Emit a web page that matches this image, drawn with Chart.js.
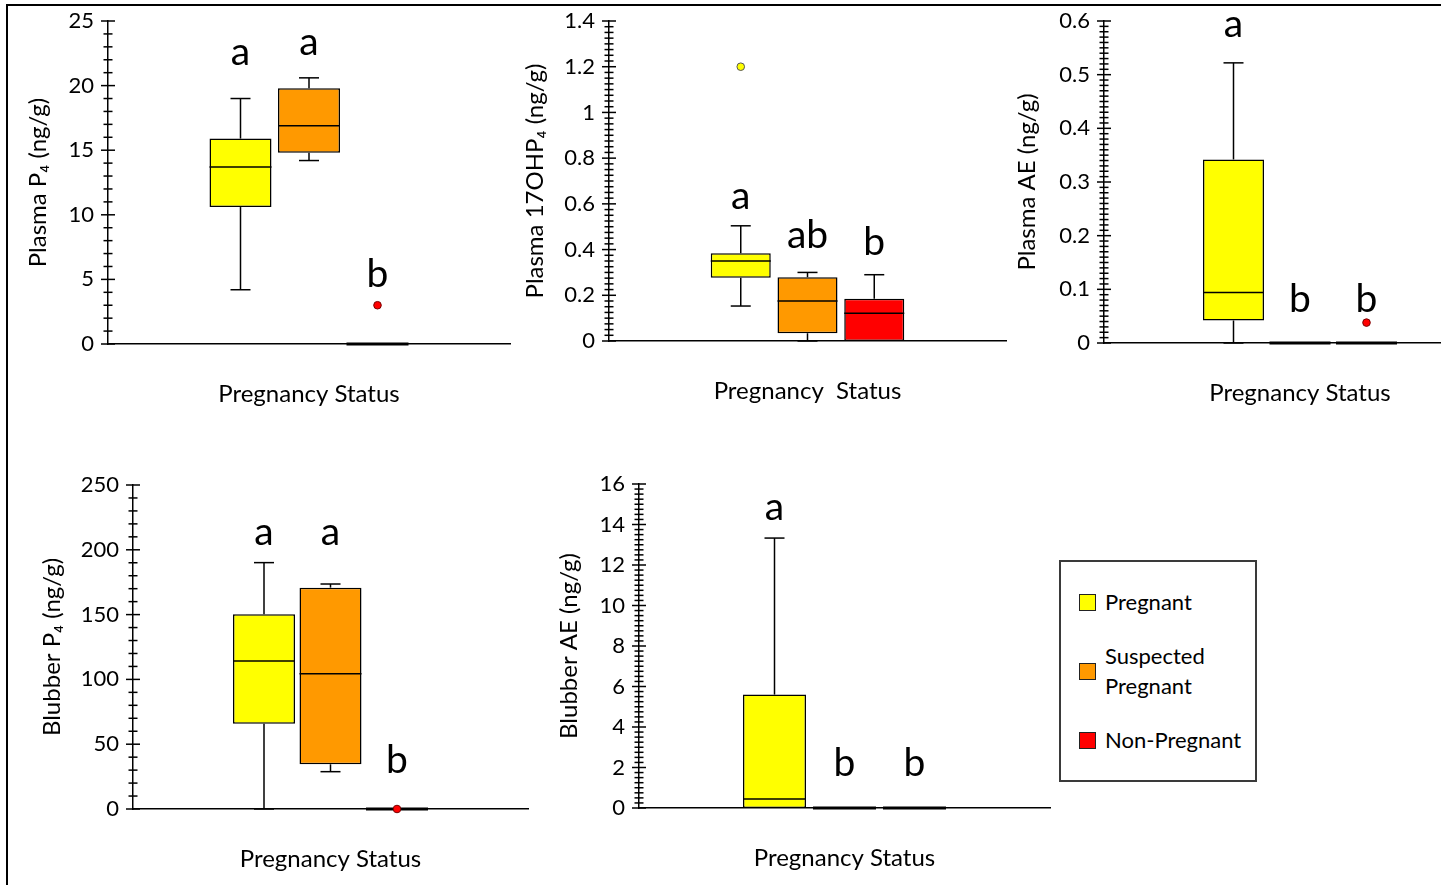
<!DOCTYPE html>
<html>
<head>
<meta charset="utf-8">
<title>Hormone concentrations by pregnancy status</title>
<script src="https://cdn.jsdelivr.net/npm/chart.js@4.4.1/dist/chart.umd.min.js"></script>
<style>
  html, body { margin: 0; padding: 0; background: #fff; width: 1441px; height: 885px; overflow: hidden; position: relative; font-family: Lato, "Open Sans", sans-serif; }
  .frame { position: absolute; left: 6px; top: 4px; width: 1500px; height: 900px; border-top: 2px solid #000; border-left: 2px solid #000; }
  canvas.panel { position: absolute; }
  .legend { position: absolute; left: 1059px; top: 560px; width: 198px; height: 222px; box-sizing: border-box; border: 2px solid #3a3a3a; padding: 25px 0 0 18px; display: flex; flex-direction: column; gap: 24px; }
  .legend .item { display: flex; align-items: center; }
  .legend .swatch { width: 17px; height: 17px; box-sizing: border-box; border: 1.5px solid #222; flex: none; }
  .legend .text { margin-left: 9px; width: 150px; font-size: 22px; line-height: 30px; color: #000; }
</style>
</head>
<body>
<div class="frame"></div>
<canvas id="plasmaP4" class="panel"></canvas>
<canvas id="plasma17" class="panel"></canvas>
<canvas id="plasmaAE" class="panel"></canvas>
<canvas id="blubberP4" class="panel"></canvas>
<canvas id="blubberAE" class="panel"></canvas>
<div class="legend" id="legend"></div>

<script>
// Groups, left to right within every panel
const groups = ['Pregnant', 'Suspected Pregnant', 'Non-Pregnant'];

// Box summaries per group: [lower whisker, Q1, median, Q3, upper whisker]
// Axis ranges: [min, max, labelled step, minor tick step]

// Plasma P4 (ng/g)
const plasmaP4Stats = [[4.2, 10.6, 13.7, 15.9, 19.0], [14.2, 14.8, 16.9, 19.8, 20.6], [0, 0, 0, 0, 0]];
const plasmaP4Outliers = [[], [], [3.0]];
const plasmaP4Letters = ['a', 'a', 'b'];
const plasmaP4LetterAt = [21.6, 22.4, 4.4];
const plasmaP4Axis = [0, 25, 5, 1];

// Plasma 17OHP4 (ng/g)
const plasma17Stats = [[0.153, 0.277, 0.35, 0.384, 0.504], [0, 0.034, 0.175, 0.279, 0.30], [0, 0, 0.121, 0.185, 0.29]];
const plasma17Outliers = [[1.2], [], []];
const plasma17Letters = ['a', 'ab', 'b'];
const plasma17LetterAt = [0.576, 0.405, 0.376];
const plasma17Axis = [0, 1.4, 0.2, 0.025];

// Plasma AE (ng/g)
const plasmaAEStats = [[0, 0.042, 0.094, 0.342, 0.522], [0, 0, 0, 0, 0], [0, 0, 0, 0, 0]];
const plasmaAEOutliers = [[], [], [0.038]];
const plasmaAELetters = ['a', 'b', 'b'];
const plasmaAELetterAt = [0.571, 0.058, 0.058];
const plasmaAEAxis = [0, 0.6, 0.1, 0.01];

// Blubber P4 (ng/g)
const blubberP4Stats = [[0, 65.8, 114.2, 150.2, 190.1], [28.8, 34.5, 104.4, 170.8, 173.6], [0, 0, 0, 0, 0]];
const blubberP4Outliers = [[], [], [0]];
const blubberP4Letters = ['a', 'a', 'b'];
const blubberP4LetterAt = [203.7, 203.7, 27.5];
const blubberP4Axis = [0, 250, 50, 10];

// Blubber AE (ng/g)
const blubberAEStats = [[0, 0, 0.44, 5.6, 13.33], [0, 0, 0, 0, 0], [0, 0, 0, 0, 0]];
const blubberAEOutliers = [[], [], []];
const blubberAELetters = ['a', 'b', 'b'];
const blubberAELetterAt = [14.24, 1.56, 1.56];
const blubberAEAxis = [0, 16, 2, 0.25];

// ---- styling ----
const groupColors = ['#FFFF00', '#FF9900', '#FF0000'];
const outlierStroke = ['#555', '#555', '#700'];
const FONT = 'Lato';
const TITLE_SIZE = 24;
const Y_AXIS_W = 100, X_AXIS_H = 80, PAD_TOP = 14, PAD_RIGHT = 4;
const X_TITLE_DROP = 50; // distance from the x axis line to the centre of its title

// whiskers, medians, outliers, significance letters and crossing tick marks
const boxParts = {
  id: 'boxParts',
  afterDatasetsDraw(chart, args, opts) {
    const { ctx } = chart;
    const y = chart.scales.y;
    const px = v => y.getPixelForValue(v);
    ctx.save();
    ctx.strokeStyle = '#000';
    ctx.lineCap = 'butt';
    const seg = (x1, y1, x2, y2) => { ctx.beginPath(); ctx.moveTo(x1, y1); ctx.lineTo(x2, y2); ctx.stroke(); };

    // y axis tick marks crossing the axis line
    const [min, max, major, minor] = opts.axis;
    const ax = chart.chartArea.left;
    const n = Math.round((max - min) / minor);
    const every = Math.round(major / minor);
    ctx.lineWidth = 1.5;
    for (let k = 0; k <= n; k++) {
      const yy = px(min + k * minor);
      const len = k % every === 0 ? 7 : 4.5;
      seg(ax - len, yy, ax + len, yy);
    }

    chart.data.datasets.forEach((ds, i) => {
      const el = chart.getDatasetMeta(i).data[0];
      const s = opts.stats[i];
      const cx = el.x, half = el.width / 2, cap = 10;
      ctx.lineWidth = 1.5;
      // upper and lower whiskers
      if (s[4] > s[3]) { seg(cx, px(s[3]), cx, px(s[4])); seg(cx - cap, px(s[4]), cx + cap, px(s[4])); }
      if (s[0] < s[1]) { seg(cx, px(s[1]), cx, px(s[0])); seg(cx - cap, px(s[0]), cx + cap, px(s[0])); }
      // median
      ctx.lineWidth = s[1] === s[3] ? 3 : 1.5;
      seg(cx - half, px(s[2]), cx + half, px(s[2]));
      // outliers
      opts.outliers[i].forEach(v => {
        ctx.beginPath();
        ctx.arc(cx, px(v), 3.8, 0, Math.PI * 2);
        ctx.fillStyle = groupColors[i];
        ctx.fill();
        ctx.lineWidth = 1;
        ctx.strokeStyle = outlierStroke[i];
        ctx.stroke();
        ctx.strokeStyle = '#000';
      });
      // significance letter
      ctx.fillStyle = '#000';
      ctx.font = '39px ' + FONT;
      ctx.textAlign = 'center';
      ctx.textBaseline = 'alphabetic';
      ctx.fillText(opts.letters[i], cx, px(opts.letterAt[i]));
    });
    ctx.restore();
  }
};

const panels = [
  { id: 'plasmaP4', stats: plasmaP4Stats, outliers: plasmaP4Outliers, letters: plasmaP4Letters, letterAt: plasmaP4LetterAt, axis: plasmaP4Axis,
    yTitle: 'Plasma P\u2084 (ng/g)', xTitle: 'Pregnancy Status', axisX: 108, y0: 344, yTop: 21, xRight: 510, titleX: 38, boxW: 62, spacing: 68.5 },
  { id: 'plasma17', stats: plasma17Stats, outliers: plasma17Outliers, letters: plasma17Letters, letterAt: plasma17LetterAt, axis: plasma17Axis,
    yTitle: 'Plasma 17OHP\u2084 (ng/g)', xTitle: 'Pregnancy  Status', axisX: 609, y0: 341, yTop: 21, xRight: 1006, titleX: 535, boxW: 60, spacing: 66.75 },
  { id: 'plasmaAE', stats: plasmaAEStats, outliers: plasmaAEOutliers, letters: plasmaAELetters, letterAt: plasmaAELetterAt, axis: plasmaAEAxis,
    yTitle: 'Plasma AE (ng/g)', xTitle: 'Pregnancy Status', axisX: 1104, y0: 343, yTop: 21, xRight: 1496, titleX: 1027, boxW: 61, spacing: 66.5 },
  { id: 'blubberP4', stats: blubberP4Stats, outliers: blubberP4Outliers, letters: blubberP4Letters, letterAt: blubberP4LetterAt, axis: blubberP4Axis,
    yTitle: 'Blubber P\u2084 (ng/g)', xTitle: 'Pregnancy Status', axisX: 133, y0: 809, yTop: 485, xRight: 528, titleX: 52, boxW: 62, spacing: 66.5 },
  { id: 'blubberAE', stats: blubberAEStats, outliers: blubberAEOutliers, letters: blubberAELetters, letterAt: blubberAELetterAt, axis: blubberAEAxis,
    yTitle: 'Blubber AE (ng/g)', xTitle: 'Pregnancy Status', axisX: 639, y0: 808, yTop: 484, xRight: 1050, titleX: 569, boxW: 63, spacing: 70 }
];

function buildPanel(p) {
  const canvas = document.getElementById(p.id);
  const plotW = p.xRight - p.axisX;
  const left = p.axisX - Y_AXIS_W;
  canvas.width = Y_AXIS_W + plotW + PAD_RIGHT;
  canvas.height = PAD_TOP + (p.y0 - p.yTop) + X_AXIS_H;
  canvas.style.left = left + 'px';
  canvas.style.top = (p.yTop - PAD_TOP) + 'px';
  const [min, max, major] = p.axis;
  const catPct = 3 * p.spacing / plotW;
  const barPct = p.boxW / p.spacing;
  const titleFont = { family: FONT, size: TITLE_SIZE };
  const halfLine = TITLE_SIZE * 1.2 / 2;

  new Chart(canvas, {
    type: 'bar',
    data: {
      labels: [p.xTitle],
      datasets: groups.map((g, i) => ({
        label: g,
        data: [[p.stats[i][1], p.stats[i][3]]],
        backgroundColor: groupColors[i],
        borderColor: '#000',
        borderWidth: 1.5,
        borderSkipped: false,
        categoryPercentage: catPct,
        barPercentage: barPct
      }))
    },
    options: {
      responsive: false,
      animation: false,
      events: [],
      layout: { padding: { top: PAD_TOP, right: PAD_RIGHT, left: 0, bottom: 0 } },
      plugins: {
        legend: { display: false },
        tooltip: { enabled: false },
        boxParts: { stats: p.stats, outliers: p.outliers, letters: p.letters, letterAt: p.letterAt, axis: p.axis }
      },
      scales: {
        x: {
          type: 'category',
          offset: true,
          ticks: { display: false },
          grid: { display: false, drawTicks: false },
          border: { display: true, color: '#000', width: 1.5 },
          title: { display: true, text: p.xTitle, color: '#000', font: titleFont, padding: { top: 0, bottom: X_AXIS_H - X_TITLE_DROP - halfLine } },
          afterFit(s) { s.height = X_AXIS_H; s.paddingLeft = 0; s.paddingRight = 0; }
        },
        y: {
          min: min, max: max,
          ticks: {
            stepSize: major, color: '#000', font: { family: FONT, size: 22 }, padding: 14,
            callback: v => String(Number(v.toFixed(4)))
          },
          grid: { display: false, drawTicks: false },
          border: { display: true, color: '#000', width: 1.5 },
          title: { display: true, text: p.yTitle, color: '#000', font: titleFont, padding: { top: p.titleX - left - halfLine, bottom: 0 } },
          afterFit(s) { s.width = Y_AXIS_W; s.paddingTop = 0; s.paddingBottom = 0; }
        }
      }
    },
    plugins: [boxParts]
  });
}

function buildLegend() {
  const box = document.getElementById('legend');
  groups.forEach((g, i) => {
    const item = document.createElement('div');
    item.className = 'item';
    const sw = document.createElement('div');
    sw.className = 'swatch';
    sw.style.background = groupColors[i];
    const tx = document.createElement('div');
    tx.className = 'text';
    tx.textContent = g;
    if (g.indexOf(' ') > 0) tx.style.width = '110px';
    item.appendChild(sw);
    item.appendChild(tx);
    box.appendChild(item);
  });
}

function draw() {
  panels.forEach(buildPanel);
  buildLegend();
}

if (document.fonts && document.fonts.load) {
  Promise.all([document.fonts.load('22px Lato'), document.fonts.load('39px Lato')]).then(draw, draw);
} else {
  draw();
}
</script>
</body>
</html>
